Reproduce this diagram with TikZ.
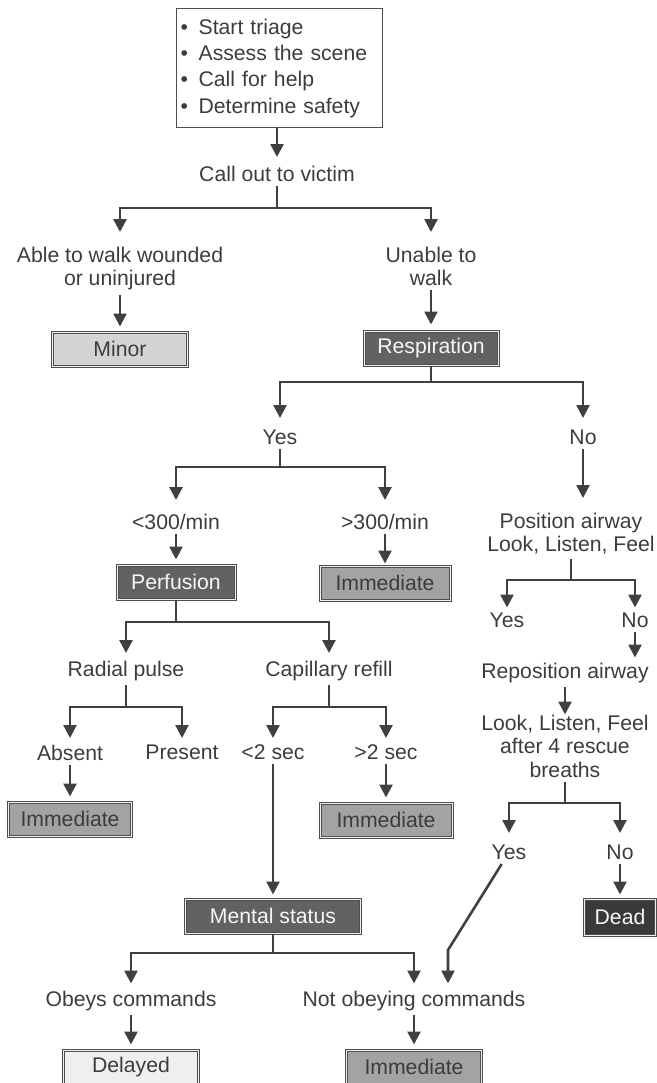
\documentclass[tikz,border=0pt]{standalone}
\usepackage{fontspec}
\setmainfont{Liberation Sans}
\usepackage{tikz}
\usetikzlibrary{arrows.meta}

\definecolor{ink}{HTML}{3C3C3C}
\definecolor{wire}{HTML}{404040}
\definecolor{rim}{HTML}{4E4E4E}
\definecolor{minorfill}{HTML}{D4D4D4}
\definecolor{stepfill}{HTML}{626262}
\definecolor{immfill}{HTML}{A3A3A3}
\definecolor{deadfill}{HTML}{3A3A3A}
\definecolor{delayfill}{HTML}{EFEFEF}

\newcommand{\chartfont}{\fontsize{10.6}{11.75}\selectfont}

\tikzstyle{txt}=[anchor=north, align=center
,inner xsep=1pt, inner ysep=2pt
,font=\chartfont, text=ink
]
\tikzstyle{tag}=[draw=rim, line width=0.5pt
,double=white!88!gray, double distance=0.5pt
,minimum height=17pt, inner sep=0pt
,font=\chartfont
]
\tikzstyle{minorbox}=[tag, fill=minorfill, text=ink]
\tikzstyle{stepbox}=[tag, fill=stepfill, text=white!94!gray]
\tikzstyle{immbox}=[tag, fill=immfill, text=ink]
\tikzstyle{deadbox}=[tag, fill=deadfill, text=white!94!gray, minimum height=18pt]
\tikzstyle{delaybox}=[tag, fill=delayfill, text=ink]
\tikzstyle{edge} = [draw, wire, line width=1.3pt]
\tikzstyle{arr} = [edge, -{Triangle[width=6.5pt,length=6.5pt]}, shorten >=1.5pt]
\tikzset{short/.style={shorten >=#1}}

\begin{document}
\begin{tikzpicture}[x=0.5pt, y=-0.5pt]
    \useasboundingbox (0,0) rectangle (657,1083);

    % Opening checklist
    \node[draw=rim, line width=0.6pt, anchor=north west, align=left
        ,text width=99pt, minimum height=59.5pt, inner xsep=2pt
        ,font=\fontsize{10.6}{13.15}\selectfont, text=ink] (start) at (176,8)
        {\textbullet\hspace{5.3pt}Start triage\\
         \textbullet\hspace{5.3pt}Assess the scene\\
         \textbullet\hspace{5.3pt}Call for help\\
         \textbullet\hspace{5.3pt}Determine safety};

    % Plain decision texts
    \foreach \pos/\name/\txt in {{(277,161.5)/call/Call out to victim},
        {(120,242.5)/walk/Able to walk wounded\\or uninjured},
        {(431,242.5)/unable/Unable to\\walk},
        {(280,425.5)/yesA/Yes}, {(583,425.5)/noA/No},
        {(176,509.5)/slow/{<300/min}}, {(385,509.5)/fast/{>300/min}},
        {(571,508.5)/airway/Position airway\\Look, Listen, Feel},
        {(507,608.5)/yesB/Yes}, {(635,608.5)/noB/No},
        {(565,658.5)/repos/Reposition airway},
        {(565,710.5)/recheck/Look, Listen, Feel\\after 4 rescue\\breaths},
        {(509,840.5)/yesC/Yes}, {(620,840.5)/noC/No},
        {(126,656.5)/radial/Radial pulse}, {(329,656.5)/capill/Capillary refill},
        {(70,740.5)/absent/Absent}, {(182,740.5)/present/Present},
        {(273,740.5)/under/<2 sec}, {(386,740.5)/over/>2 sec},
        {(131,986.5)/obeys/Obeys commands}, {(414,986.5)/notobey/Not obeying commands}}
        \node[txt] (\name) at \pos {\txt};

    % Category boxes
    \node[minorbox, minimum width=67.5pt] (minor) at (120,349) {Minor};
    \node[stepbox, minimum width=67pt] (resp) at (431,348) {Respiration};
    \node[stepbox, minimum width=59pt] (perf) at (176,582) {Perfusion};
    \node[immbox, minimum width=65pt] (immA) at (385,583) {Immediate};
    \node[immbox, minimum width=61.5pt] (immB) at (70,819) {Immediate};
    \node[immbox, minimum width=66pt] (immC) at (386,820) {Immediate};
    \node[stepbox, minimum width=87.5pt] (mental) at (273,916) {Mental status};
    \node[deadbox, minimum width=35.5pt] (dead) at (620,917) {Dead};
    \node[delaybox, minimum width=67.5pt] (delayed) at (131,1067) {Delayed};
    \node[immbox, minimum width=67.5pt] (immD) at (414,1067) {Immediate};

    % Branch points
    \coordinate (c1) at (277,208);
    \coordinate (c2) at (431,382);
    \coordinate (c3) at (280,467);
    \coordinate (c4) at (176,622);
    \coordinate (c5) at (571,580);
    \coordinate (c6) at (126,707);
    \coordinate (c7) at (329,707);
    \coordinate (c8) at (565,803);
    \coordinate (c9) at (273,953);
    \coordinate (kink) at (448,950);

    % Connectors
    \draw[arr, short=2.25pt] (start.south -| call) -- (call);
    \path[edge] (call) -- (c1);
    \foreach \dest in {walk, unable}
        \draw[arr, short=5.25pt] (c1) -| (\dest);
    \draw[arr, short=2.5pt] (walk) -- (minor);
    \draw[arr, short=3pt] (unable) -- (resp);

    \path[edge] (resp) -- (c2);
    \foreach \dest in {yesA, noA}
        \draw[arr, short=3.75pt] (c2) -| (\dest);

    \path[edge] (yesA) -- (c3);
    \foreach \dest in {slow, fast}
        \draw[arr, short=4.75pt] (c3) -| (\dest);
    \draw[arr, short=2.5pt] (slow) -- (perf);
    \draw[arr, short=1pt] (fast) -- (immA);

    \path[edge] (perf) -- (c4);
    \foreach \dest in {radial, capill}
        \draw[arr, short=1.75pt] (c4) -| (\dest);
    \path[edge] (radial) -- (c6);
    \foreach \dest in {absent, present}
        \draw[arr, short=1.25pt] (c6) -| (\dest);
    \path[edge] (capill) -- (c7);
    \foreach \dest in {under, over}
        \draw[arr, short=1.25pt] (c7) -| (\dest);
    \draw[arr, short=2.5pt] (absent) -- (immB);
    \draw[arr, short=2.5pt] (over) -- (immC);
    \draw[arr, short=2pt] (under) -- (mental);

    \path[edge] (mental) -- (c9);
    \foreach \dest in {obeys, notobey}
        \draw[arr] (c9) -| (\dest);
    \draw[arr, short=2.5pt] (obeys) -- (delayed);
    \draw[arr, short=2.5pt] (notobey) -- (immD);

    % Airway branch
    \draw[arr, short=5.25pt] (noA) -- (noA |- airway.north);
    \path[edge] (airway) -- (c5);
    \foreach \dest in {yesB, noB}
        \draw[arr, short=0.5pt] (c5) -| (\dest);
    \draw[arr, short=0.5pt] (noB) -- (noB |- repos.north);
    \draw[arr, short=-2pt] (repos) -- (recheck);
    \path[edge] (recheck) -- (c8);
    \foreach \dest in {yesC, noC}
        \draw[arr, short=3.75pt] (c8) -| (\dest);
    \draw[arr, short=2pt] (noC) -- (dead);
    \draw[arr] (yesC) -- (kink) -- (kink |- notobey.north);
\end{tikzpicture}
\end{document}
